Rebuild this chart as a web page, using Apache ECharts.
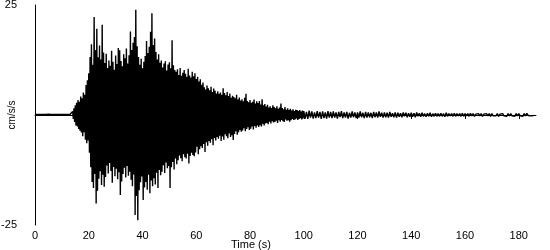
<!DOCTYPE html>
<html>
<head>
<meta charset="utf-8">
<script src="https://cdn.jsdelivr.net/npm/echarts@6/dist/echarts.min.js"></script>
<style>
html,body{margin:0;padding:0;background:#fff;}
#c{width:550px;height:250px;}
</style>
</head>
<body>
<div id="c"></div>
<script>
// Tick labels
var xTicks = [0, 20, 40, 60, 80, 100, 120, 140, 160, 180];
var yTicks = [-25, 25];
var xTitle = 'Time (s)';
var yTitle = 'cm/s/s';

// Pre-event noise, one peak/trough per 1 s, from t = 0 s
var preStart = 0, preStep = 1;
var preUpper = [0.1, 0.1, 0.1, 0.1, 0.1, 0.2, 0.1, 0.1, 0.1, 0.1, 0.1, 0.1, 0.1, 0.1];
var preLower = [-0.1, -0.1, -0.1, -0.1, -0.1, -0.1, -0.1, -0.1, -0.1, -0.1, -0.1, -0.1, -0.1, -0.1];

// Strong motion, one peak/trough per 0.5 s, from t = 14 s
var mainStart = 14, mainStep = 0.5;
var mainUpper = [
  0.8, 1.5, 2.2, 2.8, 3.4, 3.0,
  4.2, 3.8, 5.1, 4.6, 6.8, 7.9,
  9.5, 13.2, 16.1, 11.4, 22.3, 14.8,
  19.6, 13.1, 15.8, 12.6, 20.5, 14.2,
  11.8, 13.9, 10.7, 12.4, 11.2, 14.6,
  12.1, 10.3, 13.5, 11.6, 15.2, 14.7,
  12.3, 11.1, 13.8, 12.9, 15.1, 11.7,
  13.6, 19.0, 14.8, 16.4, 17.7, 23.9,
  15.6, 13.2, 11.4, 12.8, 10.6, 12.1,
  13.4, 16.8, 14.1, 15.5, 18.9, 23.1,
  15.9, 17.4, 14.3, 12.6, 13.8, 11.9,
  12.4, 10.8, 11.7, 12.2, 10.1, 11.5,
  12.0, 10.6, 17.0, 11.3, 10.2, 9.8,
  10.4, 9.1, 10.7, 8.9, 9.6, 10.2,
  9.4, 8.7, 10.5, 9.0, 8.5, 9.8,
  8.8, 9.5, 8.2, 8.7, 7.6, 8.1,
  6.9, 7.4, 6.3, 5.8, 6.7, 6.1,
  5.6, 6.4, 5.2, 6.0, 5.5, 4.9,
  5.4, 4.8, 5.1, 4.6, 6.1, 5.0,
  4.5, 5.2, 4.3, 4.9, 3.9, 4.4,
  4.1, 3.8, 4.6, 3.5, 4.0, 3.3,
  3.6, 3.1, 3.9, 4.8, 3.2, 2.9,
  3.4, 2.8, 3.0, 3.5, 2.6, 3.1,
  2.7, 3.2, 2.4, 3.6, 2.2, 2.5,
  1.9, 2.3, 1.7, 2.0, 1.6, 2.2,
  1.8, 1.5, 2.0, 1.4, 1.7, 2.6,
  1.6, 1.3, 1.8, 1.2, 1.5, 1.1,
  1.4, 1.0, 1.3, 0.9, 1.2, 1.1,
  0.9, 1.1, 0.8, 1.0
];
var mainLower = [
  -0.9, -1.6, -2.4, -2.6, -3.2, -3.6,
  -4.0, -4.8, -3.9, -5.6, -6.4, -5.8,
  -8.6, -11.9, -15.2, -16.6, -13.4, -20.1,
  -17.2, -14.5, -12.8, -15.9, -13.6, -16.3,
  -14.1, -11.5, -13.3, -10.9, -12.7, -15.4,
  -11.8, -13.9, -12.2, -14.6, -13.0, -18.2,
  -15.1, -13.4, -12.0, -14.2, -11.6, -13.8,
  -12.9, -14.7, -16.2, -13.5, -22.7, -18.4,
  -23.9, -17.1, -15.3, -14.0, -19.3, -16.5,
  -15.2, -17.0, -13.6, -17.8, -14.9, -16.2,
  -14.4, -15.8, -13.1, -16.6, -12.5, -13.7,
  -12.9, -11.4, -13.2, -10.8, -12.1, -11.6,
  -16.6, -11.9, -10.7, -12.4, -9.9, -11.2,
  -10.3, -9.2, -9.8, -10.5, -8.9, -9.6,
  -9.9, -8.8, -11.0, -9.3, -8.6, -9.1,
  -9.4, -8.5, -7.2, -8.9, -7.8, -7.1,
  -7.5, -6.6, -8.4, -6.2, -7.0, -5.9,
  -6.3, -5.5, -6.9, -5.2, -5.8, -5.0,
  -5.4, -4.7, -5.9, -4.9, -5.6, -4.4,
  -4.8, -5.3, -4.2, -5.0, -4.6, -5.7,
  -4.3, -3.7, -4.5, -3.9, -3.4, -3.8,
  -3.5, -3.0, -3.7, -3.2, -2.8, -3.4,
  -3.1, -2.6, -3.3, -2.5, -2.9, -2.4,
  -2.7, -2.3, -2.6, -2.0, -2.4, -1.9,
  -1.8, -2.1, -1.5, -1.9, -1.4, -1.7,
  -1.6, -1.3, -1.8, -1.2, -1.5, -1.1,
  -1.4, -1.6, -1.0, -1.3, -1.2, -1.5,
  -1.2, -0.9, -1.1, -1.0, -0.8, -1.1,
  -0.9, -0.7, -1.0, -0.8
];

// Coda, one peak/trough per 1 s, from t = 100 s
var tailStart = 100, tailStep = 1;
var tailUpper = [
  0.9, 0.7, 1.0, 0.8, 0.6, 0.9, 0.7, 0.8, 0.6, 0.9,
  0.7, 0.8, 0.6, 0.7, 0.9, 0.6, 0.7, 0.5, 0.8, 0.6,
  0.6, 0.8, 0.5, 0.7, 0.6, 0.5, 0.7, 0.6, 0.8, 0.5,
  0.6, 0.5, 0.7, 0.4, 0.6, 0.5, 0.4, 0.6, 0.5, 0.4,
  0.5, 0.4, 0.6, 0.4, 0.5, 0.3, 0.4, 0.5, 0.3, 0.4,
  0.3, 0.4, 0.3, 0.5, 0.3, 0.3, 0.4, 0.3, 0.3, 0.4,
  0.3, 0.3, 0.4, 0.3, 0.2, 0.3, 0.3, 0.2, 0.3, 0.3,
  0.3, 0.2, 0.3, 0.2, 0.3, 0.2, 0.3, 0.3, 0.2, 0.3,
  0.3, 0.2, 0.3, 0.4, 0.2, 0.1
];
var tailLower = [
  -0.8, -0.9, -0.6, -0.8, -0.7, -0.6, -0.9, -0.7, -0.8, -0.6,
  -0.7, -0.6, -0.8, -0.5, -0.7, -0.6, -0.8, -0.6, -0.5, -0.7,
  -0.6, -0.5, -0.7, -0.6, -0.5, -0.7, -0.5, -0.6, -0.4, -0.6,
  -0.5, -0.6, -0.4, -0.5, -0.6, -0.4, -0.5, -0.3, -0.5, -0.4,
  -0.4, -0.5, -0.3, -0.4, -0.3, -0.4, -0.3, -0.4, -0.3, -0.3,
  -0.3, -0.3, -0.4, -0.3, -0.2, -0.3, -0.3, -0.2, -0.3, -0.3,
  -0.2, -0.3, -0.2, -0.3, -0.2, -0.2, -0.3, -0.2, -0.2, -0.3,
  -0.2, -0.2, -0.3, -0.2, -0.2, -0.3, -0.2, -0.2, -0.3, -0.2,
  -0.2, -0.3, -0.2, -0.1, -0.2, -0.1
];

var tEnd = 186.4;

// Build waveform: each bin contributes its peak then its trough
var wave = [];
function addBlock(t0, step, up, lo) {
  for (var i = 0; i < up.length; i++) {
    var t = t0 + i * step;
    wave.push([t, up[i]]);
    wave.push([t + step / 2, lo[i]]);
  }
}
addBlock(preStart, preStep, preUpper, preLower);
addBlock(mainStart, mainStep, mainUpper, mainLower);
addBlock(tailStart, tailStep, tailUpper, tailLower);

var FONT = 'Liberation Sans, Arial, sans-serif';
var chart = echarts.init(document.getElementById('c'), null, {renderer: 'canvas'});
chart.setOption({
  animation: false,
  backgroundColor: '#ffffff',
  grid: {left: 35, right: 14, top: 5, bottom: 25, containLabel: false, outerBoundsMode: 'none'},
  xAxis: {
    type: 'value',
    min: 0,
    max: tEnd,
    interval: xTicks[1] - xTicks[0],
    axisLine: {show: true, lineStyle: {color: '#000', width: 1}},
    axisTick: {show: true, length: 4, inside: false, lineStyle: {color: '#000'}},
    axisLabel: {
      color: '#000', fontSize: 11, fontFamily: FONT, margin: 5,
      showMaxLabel: false,
      formatter: function (v) { return xTicks.indexOf(v) >= 0 ? String(v) : ''; }
    },
    splitLine: {show: false}
  },
  yAxis: {
    type: 'value',
    min: yTicks[0],
    max: yTicks[1],
    interval: yTicks[1] - yTicks[0],
    axisLine: {show: true, lineStyle: {color: '#000', width: 1}},
    axisTick: {show: false},
    axisLabel: {color: '#000', fontSize: 11, fontFamily: FONT, margin: 18},
    splitLine: {show: false}
  },
  graphic: [{
    type: 'text',
    left: 250 - 19,
    top: 239,
    style: {text: xTitle, fill: '#000', font: '11px ' + FONT}
  }, {
    type: 'text',
    x: 12,
    y: 115,
    rotation: Math.PI / 2,
    style: {text: yTitle, fill: '#000', font: '10px ' + FONT, textAlign: 'center', textVerticalAlign: 'middle'}
  }],
  series: [{
    type: 'line',
    data: wave,
    showSymbol: false,
    symbol: 'none',
    sampling: null,
    silent: true,
    lineStyle: {color: '#000', width: 1.4},
    emphasis: {disabled: true}
  }]
});
</script>
</body>
</html>
